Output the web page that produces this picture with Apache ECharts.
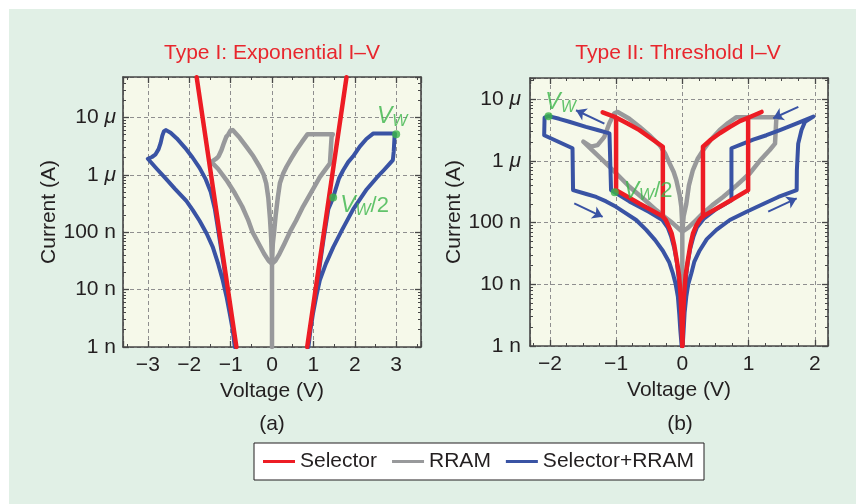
<!DOCTYPE html>
<html><head><meta charset="utf-8">
<script src="https://cdn.jsdelivr.net/npm/echarts@6/dist/echarts.min.js"></script>
<style>
html,body{margin:0;padding:0;background:#fff;}
#bg{position:absolute;left:9px;top:9px;width:847px;height:495px;background:#e1f0e6;}
#chart{position:absolute;left:0;top:0;width:859px;height:504px;}
</style></head><body>
<div id="bg"></div><div id="chart"></div>
<script>
// ---------- data: [Voltage (V), Current (A)] ----------
// Panel (a): Type I exponential I-V
const selA_neg = [[-1.82,5.0e-5],[-0.86,1e-9]];
const selA_pos = [[0.85,1e-9],[1.80,5.0e-5]];
const rramA_pos = [[0,1e-9],[0,2.8e-8],[0.02,6.3e-8],[0.05,1.0e-7],[0.09,2.0e-7],[0.14,4.0e-7],[0.19,7.1e-7],[0.27,1.05e-6],[0.35,1.38e-6],[0.47,1.95e-6],[0.59,2.7e-6],[0.72,3.7e-6],[0.86,5.1e-6],[1.47,5.1e-6],[1.44,4.6e-6],[1.40,1.58e-6],[1.155,9.1e-7],[0.95,5.0e-7],[0.75,2.8e-7],[0.58,1.58e-7],[0.43,1.0e-7],[0.30,6.3e-8],[0.18,4.2e-8],[0.08,3.16e-8],[0,2.8e-8]];
const rramA_neg = [[0,2.8e-8],[-0.02,7.9e-8],[-0.05,1.78e-7],[-0.09,4.0e-7],[-0.14,7.1e-7],[-0.20,1.0e-6],[-0.30,1.38e-6],[-0.45,2.1e-6],[-0.62,3.1e-6],[-0.78,4.4e-6],[-0.95,6.0e-6],[-1.0,5.9e-6],[-1.06,5.0e-6],[-1.104,4.6e-6],[-1.16,3.6e-6],[-1.22,2.7e-6],[-1.29,2.1e-6],[-1.346,1.92e-6],[-1.467,1.68e-6],[-1.30,1.26e-6],[-1.10,8.1e-7],[-0.90,4.8e-7],[-0.72,2.8e-7],[-0.58,1.66e-7],[-0.47,1.0e-7],[-0.32,6.3e-8],[-0.19,4.2e-8],[-0.08,3.16e-8],[0,2.8e-8]];
const bothA_neg = [[-0.88,1e-9],[-1.01,4.5e-9],[-1.14,2.0e-8],[-1.27,7.9e-8],[-1.38,2.5e-7],[-1.48,5.0e-7],[-1.60,8.3e-7],[-1.75,1.32e-6],[-1.92,2.0e-6],[-2.10,2.95e-6],[-2.30,4.3e-6],[-2.45,5.4e-6],[-2.56,6.0e-6],[-2.61,5.75e-6],[-2.65,4.8e-6],[-2.69,3.6e-6],[-2.74,2.8e-6],[-2.82,2.24e-6],[-2.90,2.04e-6],[-3.0,1.9e-6],[-2.78,1.26e-6],[-2.56,8.5e-7],[-2.35,5.75e-7],[-2.07,3.5e-7],[-1.91,2.4e-7],[-1.75,1.58e-7],[-1.58,9.5e-8],[-1.43,5.5e-8],[-1.30,2.8e-8],[-1.19,1.45e-8],[-1.10,7.6e-9],[-1.02,3.8e-9],[-0.95,2.0e-9],[-0.9,1e-9]];
const bothA_pos = [[0.87,1e-9],[1.0,4.5e-9],[1.13,2.0e-8],[1.25,7.9e-8],[1.36,2.5e-7],[1.477,4.0e-7],[1.55,6.0e-7],[1.62,8.7e-7],[1.72,1.2e-6],[1.84,1.66e-6],[1.96,2.1e-6],[2.12,3.1e-6],[2.28,4.2e-6],[2.45,5.25e-6],[2.97,5.25e-6],[2.96,4.5e-6],[2.94,2.5e-6],[2.92,1.8e-6],[2.85,1.58e-6],[2.70,1.2e-6],[2.53,8.9e-7],[2.29,5.6e-7],[1.96,2.5e-7],[1.70,1.12e-7],[1.48,5.5e-8],[1.30,2.8e-8],[1.155,1.45e-8],[1.07,7.6e-9],[0.99,3.8e-9],[0.93,2.0e-9],[0.88,1e-9]];
const vwA = [3.0, 5.1e-6];
const vw2A = [1.477, 4.0e-7];

// Panel (b): Type II threshold I-V
const selB_pos = [[0,1e-9],[0.01,2.5e-9],[0.025,6.3e-9],[0.05,1.41e-8],[0.085,2.5e-8],[0.12,4.2e-8],[0.16,6.6e-8],[0.21,8.9e-8],[0.26,1.1e-7],[0.31,1.26e-7],[0.65,2.04e-7],[0.994,3.36e-7],[0.994,5.0e-6],[1.197,6.2e-6],[0.994,5.0e-6],[0.868,4.4e-6],[0.72,3.55e-6],[0.565,2.8e-6],[0.43,2.2e-6],[0.312,1.69e-6],[0.312,1.24e-7]];
const selB_neg = [[0,1e-9],[-0.01,2.5e-9],[-0.025,6.3e-9],[-0.05,1.41e-8],[-0.085,2.5e-8],[-0.12,4.2e-8],[-0.16,6.6e-8],[-0.21,8.9e-8],[-0.25,1.1e-7],[-0.294,1.26e-7],[-0.65,2.04e-7],[-1.0,3.36e-7],[-1.0,5.06e-6],[-1.203,6.1e-6],[-1.0,5.06e-6],[-0.82,4.0e-6],[-0.647,3.15e-6],[-0.47,2.3e-6],[-0.294,1.69e-6],[-0.294,1.24e-7]];
const rramB_pos = [[0,1e-9],[0,7.1e-8],[0.02,1.26e-7],[0.06,2.0e-7],[0.1,4.0e-7],[0.16,7.1e-7],[0.23,1.07e-6],[0.312,1.48e-6],[0.43,2.2e-6],[0.565,3.16e-6],[0.69,4.1e-6],[0.818,5.1e-6],[1.474,5.1e-6],[1.42,4.9e-6],[1.40,1.9e-6],[1.32,1.5e-6],[1.17,1.0e-6],[1.02,6.3e-7],[0.82,4.0e-7],[0.615,2.6e-7],[0.45,1.9e-7],[0.31,1.41e-7],[0.19,1.05e-7],[0.09,8.3e-8],[0,7.1e-8]];
const rramB_neg = [[0,7.1e-8],[-0.005,1.12e-7],[-0.015,1.8e-7],[-0.04,2.8e-7],[-0.091,4.9e-7],[-0.13,6.6e-7],[-0.192,9.1e-7],[-0.26,1.32e-6],[-0.344,1.8e-6],[-0.48,2.5e-6],[-0.647,3.56e-6],[-0.8,4.8e-6],[-0.976,6.2e-6],[-1.026,5.9e-6],[-1.10,4.1e-6],[-1.177,2.45e-6],[-1.28,1.8e-6],[-1.38,1.7e-6],[-1.495,2.04e-6],[-1.35,1.45e-6],[-1.203,1.03e-6],[-1.0,6.3e-7],[-0.798,3.8e-7],[-0.6,2.5e-7],[-0.394,1.59e-7],[-0.25,1.2e-7],[-0.142,9.7e-8],[-0.06,8.1e-8],[0,7.1e-8]];
const bothB_neg = [[-0.005,1e-9],[-0.025,4.5e-9],[-0.05,1.12e-8],[-0.08,2.2e-8],[-0.12,3.8e-8],[-0.17,6.0e-8],[-0.22,8.3e-8],[-0.3,1.1e-7],[-0.5,1.48e-7],[-0.8,2.2e-7],[-1.02,3.1e-7],[-1.076,3.36e-7],[-1.10,2.78e-6],[-1.28,3.16e-6],[-1.455,3.56e-6],[-1.707,4.3e-6],[-1.86,4.8e-6],[-2.02,5.3e-6],[-2.08,5.0e-6],[-2.086,2.6e-6],[-1.658,1.6e-6],[-1.65,3.36e-7],[-1.66,3.16e-7],[-1.45,2.9e-7],[-1.30,2.6e-7],[-1.15,2.2e-7],[-1.0,1.8e-7],[-0.85,1.41e-7],[-0.697,1.1e-7],[-0.545,7.6e-8],[-0.41,5.2e-8],[-0.294,3.5e-8],[-0.2,2.3e-8],[-0.142,1.5e-8],[-0.1,1e-8],[-0.067,6.3e-9],[-0.045,3.2e-9],[-0.03,1.8e-9],[-0.01,1e-9]];
const bothB_pos = [[0.005,1e-9],[0.025,4.5e-9],[0.05,1.12e-8],[0.08,2.2e-8],[0.12,3.8e-8],[0.17,6.0e-8],[0.22,8.3e-8],[0.33,1.17e-7],[0.515,1.66e-7],[0.742,2.3e-7],[0.742,1.6e-6],[0.9,1.86e-6],[1.07,2.2e-6],[1.27,2.6e-6],[1.474,3.15e-6],[1.72,4.0e-6],[1.979,5.2e-6],[1.853,4.3e-6],[1.80,3.15e-6],[1.75,1.9e-6],[1.73,7.1e-7],[1.727,3.36e-7],[1.45,2.6e-7],[1.221,2.0e-7],[0.97,1.5e-7],[0.717,1.1e-7],[0.515,7.6e-8],[0.37,5.4e-8],[0.26,3.5e-8],[0.18,2.3e-8],[0.136,1.5e-8],[0.09,1e-8],[0.06,6.3e-9],[0.035,3.5e-9],[0.02,1.8e-9],[0.005,1e-9]];
const vwB = [-2.02, 5.3e-6];
const vw2B = [-1.02, 3.1e-7];
const arrowsB = [
  [[-1.177,4.0e-6],[-1.605,6.6e-6]],
  [[-1.632,2.05e-7],[-1.203,1.24e-7]],
  [[1.752,7.5e-6],[1.373,4.9e-6]],
  [[1.297,1.5e-7],[1.727,2.47e-7]]
];

// axis ranges and tick labels
const xRangeA = [-3.6, 3.6];
const xRangeB = [-2.3, 2.2];
const yRangeA = [1e-9, 5.05e-5];
const yRangeB = [1e-9, 2.2e-5];
const yTickLabels = {'-9':'1 n','-8':'10 n','-7':'100 n','-6':'1 {mu|\u03bc}','-5':'10 {mu|\u03bc}'};
const legendNames = ['Selector','RRAM','Selector+RRAM'];
const titles = ['Type I: Exponential I\u2013V','Type II: Threshold I\u2013V'];

// ---------- styles ----------
const FONT = "'Liberation Sans', Arial, Helvetica, sans-serif";
const C = {red:'#ed1c24', gray:'#98999b', blue:'#3953a4', green:'#3bb54a', text:'#231f20',
           frame:'#474747', grid:'#8f8f8f', plot:'#f6f9ea', title:'#e8262d'};

function xFmt(v){
  if (Math.abs(v - Math.round(v)) > 1e-6) return '';
  const r = Math.round(v);
  return r < 0 ? '\u2212' + (-r) : String(r);
}
function yFmt(v){
  const e = Math.log10(v), r = Math.round(e);
  if (Math.abs(e - r) > 1e-6) return '';
  return yTickLabels[String(r)] || '';
}
const labelFont = {fontSize:21, color:C.text, fontFamily:FONT};

function xAxis(grid, range, minorSplit, top){
  return {
    type:'value', gridIndex:grid, min:range[0], max:range[1], position: top ? 'top' : 'bottom',
    axisLine:{show:true, onZero:false, lineStyle:{color:C.frame, width:1.6}},
    axisTick:{show:true, inside:true, length:6, lineStyle:{color:C.frame, width:1.3}},
    minorTick:{show:true, splitNumber:minorSplit, length:3, lineStyle:{color:C.frame, width:1}},
    axisLabel: top ? {show:false} : Object.assign({show:true, margin:8, formatter:xFmt}, labelFont),
    splitLine:{show:!top, lineStyle:{type:[4,3], color:C.grid, width:1}},
    name: top ? '' : 'Voltage (V)', nameLocation:'middle', nameGap:33,
    nameTextStyle: labelFont
  };
}
function yAxis(grid, range, right, margin){
  return {
    type:'log', logBase:10, gridIndex:grid, min:range[0], max:range[1], position: right ? 'right' : 'left',
    axisLine:{show:true, onZero:false, lineStyle:{color:C.frame, width:1.6}},
    axisTick:{show:true, inside:true, length:6, lineStyle:{color:C.frame, width:1.3}},
    minorTick:{show:true, splitNumber:9, length:3, lineStyle:{color:C.frame, width:1}},
    axisLabel: right ? {show:false} : Object.assign({show:true, margin:margin, formatter:yFmt,
      rich:{mu:{fontSize:21, fontStyle:'italic', fontFamily:FONT, color:C.text}}}, labelFont),
    splitLine:{show:!right, lineStyle:{type:[4,3], color:C.grid, width:1}},
    name: right ? '' : 'Current (A)', nameLocation:'middle', nameGap:62, nameRotate:90,
    nameTextStyle: labelFont
  };
}
function line(name, data, xi, yi, color, width, z){
  return {type:'line', name:name, data:data, xAxisIndex:xi, yAxisIndex:yi, color:color,
    showSymbol:false, symbol:'none', z:z, clip:true, animation:false, emphasis:{disabled:true},
    lineStyle:{color:color, width:width, cap:'round', join:'round'}};
}
const vRich = {
  v:{fontSize:23, fontStyle:'italic', fontFamily:FONT, color:C.green},
  w:{fontSize:16, fontStyle:'italic', fontFamily:FONT, color:C.green, padding:[9,0,0,0]},
  s:{fontSize:22, fontFamily:FONT, color:C.green}
};
function dots(xi, yi, vw, vw2, vwLabel, vw2Label){
  return {type:'scatter', xAxisIndex:xi, yAxisIndex:yi, symbol:'circle', symbolSize:8, z:10,
    itemStyle:{color:C.green}, emphasis:{disabled:true}, animation:false,
    data:[
      {value:vw, label:Object.assign({show:true, formatter:'{v|V}{w|W}', rich:vRich}, vwLabel)},
      {value:vw2, label:Object.assign({show:true, formatter:'{v|V}{w|W}{s|/2}', rich:vRich}, vw2Label)}
    ]};
}

const series = [
  line('RRAM', rramA_pos, 0, 0, C.gray, 4.5, 2),
  line('RRAM', rramA_neg, 0, 0, C.gray, 4.5, 2),
  line('Selector+RRAM', bothA_pos, 0, 0, C.blue, 4, 3),
  line('Selector+RRAM', bothA_neg, 0, 0, C.blue, 4, 3),
  line('Selector', selA_pos, 0, 0, C.red, 4.5, 4),
  line('Selector', selA_neg, 0, 0, C.red, 4.5, 4),
  line('RRAM', rramB_pos, 1, 1, C.gray, 4.5, 2),
  line('RRAM', rramB_neg, 1, 1, C.gray, 4.5, 2),
  line('Selector+RRAM', bothB_pos, 1, 1, C.blue, 4, 3),
  line('Selector+RRAM', bothB_neg, 1, 1, C.blue, 4, 3),
  line('Selector', selB_pos, 1, 1, C.red, 4.5, 4),
  line('Selector', selB_neg, 1, 1, C.red, 4.5, 4),
  dots(0, 0, vwA, vw2A,
    {position:'top', distance:1, offset:[-4,0]},
    {position:'right', distance:3, offset:[0,8]}),
  dots(1, 1, vwB, vw2B,
    {position:'top', distance:0, offset:[12,3]},
    {position:'right', distance:5, offset:[0,-1]})
];
// arrows (panel b)
series.push({type:'line', name:'arrows', data:[], xAxisIndex:1, yAxisIndex:1, z:5, animation:false,
  markLine:{silent:true, symbol:['none','arrow'], symbolSize:10, animation:false,
    lineStyle:{color:C.blue, width:2, type:'solid'}, label:{show:false}, emphasis:{disabled:true},
    data: arrowsB.map(a => [{coord:a[0]},{coord:a[1]}])}});

const chart = echarts.init(document.getElementById('chart'), null, {renderer:'canvas'});
chart.setOption({
  animation:false,
  backgroundColor:'transparent',
  grid:[
    {left:123, top:77, width:298, height:270, show:true, backgroundColor:C.plot, borderWidth:0},
    {left:530, top:78, width:298, height:268, show:true, backgroundColor:C.plot, borderWidth:0}
  ],
  xAxis:[xAxis(0, xRangeA, 2, false), xAxis(1, xRangeB, 4, false), xAxis(0, xRangeA, 2, true), xAxis(1, xRangeB, 4, true)],
  yAxis:[yAxis(0, yRangeA, false, 7), yAxis(1, yRangeB, false, 9), yAxis(0, yRangeA, true, 0), yAxis(1, yRangeB, true, 0)],
  legend:{data:legendNames, left:254, top:443, orient:'horizontal', icon:'rect', itemWidth:32, itemHeight:3,
    itemGap:15, padding:[8,10,8,9], backgroundColor:'#fff', borderColor:C.text, borderWidth:1, borderRadius:0,
    selectedMode:false, textStyle:{fontSize:21, color:C.text, fontFamily:FONT}},
  graphic:[
    {type:'text', x:272, y:53, style:{text:titles[0], fill:C.title, fontSize:21, fontFamily:FONT, align:'center', verticalAlign:'middle'}},
    {type:'text', x:678, y:53, style:{text:titles[1], fill:C.title, fontSize:21, fontFamily:FONT, align:'center', verticalAlign:'middle'}},
    {type:'text', x:272, y:424, style:{text:'(a)', fill:C.text, fontSize:21, fontFamily:FONT, align:'center', verticalAlign:'middle'}},
    {type:'text', x:680, y:424, style:{text:'(b)', fill:C.text, fontSize:21, fontFamily:FONT, align:'center', verticalAlign:'middle'}}
  ],
  series: series
});
</script>
</body></html>
